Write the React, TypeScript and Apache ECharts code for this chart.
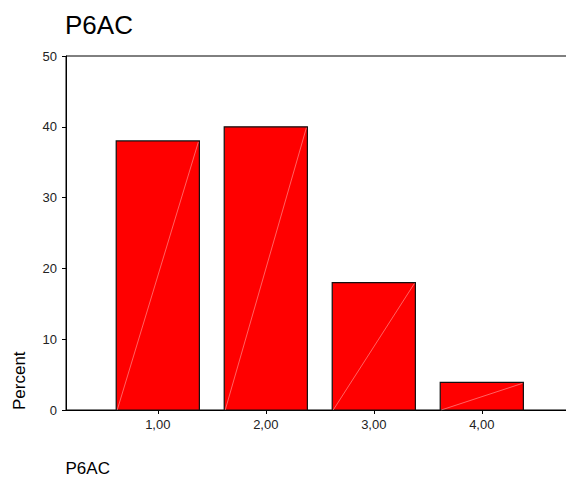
import React, { useEffect, useRef } from "react";
import * as echarts from "echarts";

const titleText = "P6AC";
const xAxisTitle = "P6AC";
const yAxisTitle = "Percent";
const categoryPositions = [1, 2, 3, 4];
const categoryLabels = ["1,00", "2,00", "3,00", "4,00"];
const percentValues = [38, 40, 18, 3.9];
const yTicks = { min: 0, max: 50, interval: 10 };

const FONT = '"Liberation Sans", Arial, sans-serif';

export default function App() {
  const ref = useRef<HTMLDivElement>(null);
  useEffect(() => {
    if (!ref.current) return;
    const chart = echarts.init(ref.current, null, { renderer: "svg" });
    const data = categoryPositions.map((x, i) => [x, percentValues[i]]);
    const labelMap: Record<string, string> = {};
    categoryPositions.forEach((x, i) => (labelMap[String(x)] = categoryLabels[i]));
    chart.setOption({
      animation: false,
      backgroundColor: "#fff",
      textStyle: { fontFamily: FONT },
      graphic: [
        {
          type: "text",
          x: 65,
          y: 25.3,
          style: {
            text: titleText,
            fontFamily: FONT,
            fontSize: 26,
            fill: "#000",
            align: "left",
            verticalAlign: "middle",
          },
        },
        {
          type: "text",
          x: 65.5,
          y: 468.6,
          style: {
            text: xAxisTitle,
            fontFamily: FONT,
            fontSize: 17,
            fill: "#000",
            align: "left",
            verticalAlign: "middle",
          },
        },
        {
          type: "text",
          x: 19.1,
          y: 410,
          rotation: Math.PI / 2,
          style: {
            text: yAxisTitle,
            fontFamily: FONT,
            fontSize: 17,
            fill: "#000",
            align: "left",
            verticalAlign: "middle",
          },
        },
      ],
      grid: {
        left: 66,
        top: 56,
        width: 540,
        height: 354,
        outerBoundsMode: "none",
        containLabel: false,
        show: true,
        borderColor: "#000",
        borderWidth: 1,
        backgroundColor: "transparent",
      },
      xAxis: {
        type: "value",
        min: 0.15,
        max: 5.15,
        splitLine: { show: false },
        axisLine: { show: true, lineStyle: { color: "#000", width: 1 } },
        axisTick: {
          show: true,
          length: 4,
          customValues: categoryPositions,
          lineStyle: { color: "#000" },
        },
        axisLabel: {
          customValues: categoryPositions,
          formatter: (v: number) => labelMap[String(v)] ?? "",
          fontFamily: FONT,
          fontSize: 13,
          color: "#222",
          margin: 8,
        },
      },
      yAxis: {
        type: "value",
        min: yTicks.min,
        max: yTicks.max,
        interval: yTicks.interval,
        splitLine: { show: false },
        axisLine: { show: true, lineStyle: { color: "#000", width: 1 } },
        axisTick: { show: true, length: 4, lineStyle: { color: "#000" } },
        axisLabel: { fontFamily: FONT, fontSize: 13, color: "#222", margin: 9 },
      },
      series: [
        {
          type: "custom",
          data,
          renderItem: (params: any, api: any) => {
            const x = api.value(0);
            const v = api.value(1);
            const base = api.coord([x, 0]);
            const top = api.coord([x, v]);
            const w = api.size([0.77, 0])[0];
            const left = base[0] - w / 2;
            const right = base[0] + w / 2;
            return {
              type: "group",
              children: [
                {
                  type: "rect",
                  shape: { x: left, y: top[1], width: w, height: base[1] - top[1] },
                  style: { fill: "#ff0000", stroke: "#111", lineWidth: 1.2 },
                },
                {
                  type: "line",
                  shape: { x1: left + 1, y1: base[1], x2: right - 1, y2: top[1] + 1 },
                  style: { stroke: "rgba(255,200,200,0.7)", lineWidth: 0.7 },
                },
              ],
            };
          },
        },
      ],
    });
    return () => chart.dispose();
  }, []);
  return (
    <div
      ref={ref}
      style={{ position: "absolute", left: 0, top: 0, width: 566, height: 477 }}
    />
  );
}
